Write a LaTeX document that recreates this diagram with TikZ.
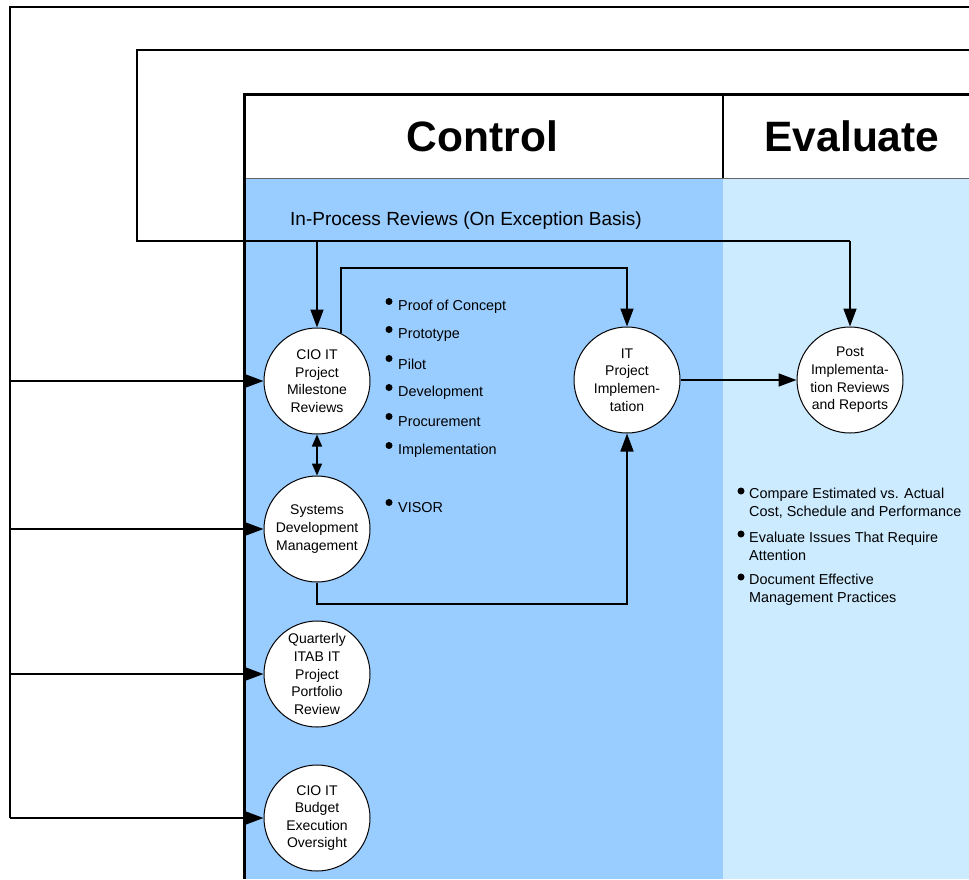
\documentclass[tikz,border=0pt]{standalone}
\usepackage{fontspec}
\setmainfont{Liberation Sans}
\usetikzlibrary{arrows.meta}
\definecolor{ctrlblue}{HTML}{99CCFF}
\definecolor{evalblue}{HTML}{CCEBFF}
\begin{document}
\begin{tikzpicture}[x=1pt,y=-1pt,
  wire/.style={line width=1.7pt},
  arr/.style={wire,-{Triangle[length=18pt,width=13pt]}},
  proc/.style={circle,draw,line width=1pt,fill=white,minimum size=106pt,inner sep=0pt,
    align=center,font=\fontsize{14}{17.6}\selectfont},
  title/.style={font=\bfseries\fontsize{42.5}{50}\selectfont},
  item/.style={anchor=west,inner sep=0pt,font=\fontsize{14.4}{18}\selectfont},
  dot/.style={fill=black},
]
\useasboundingbox (0,0) rectangle (969,879);

% panels
\fill[ctrlblue] (244,178) rectangle (723,879);
\fill[evalblue] (723,178) rectangle (969,879);
\draw[line width=0.8pt,black!60] (244,178) -- (969,178);
\draw[line width=1.2pt] (723,94) -- (723,178);
\draw[line width=3pt] (969,94) -- (244,94) -- (244,879);

% headings
\node[title] (hctrl) at (482.5,136) {Control};
\node[title] (heval) at (852,136) {Evaluate};
\node[font=\fontsize{19}{22}\selectfont] (inproc) at (466,221) {In-Process Reviews (On Exception Basis)};

% process circles
\node[proc] (cio) at (317,381) {CIO IT\\Project\\Milestone\\Reviews};
\node[proc] (sdm) at (317,529) {Systems\\Development\\Management};
\node[proc] (qtr) at (317,674) {Quarterly\\ITAB IT\\Project\\Portfolio\\Review};
\node[proc] (bud) at (317,818) {CIO IT\\Budget\\Execution\\Oversight};
\node[proc] (itp) at (627,380) {IT\\Project\\Implemen-\\tation};
\node[proc] (pir) at (850,380) {Post\\Implementa-\\tion Reviews\\and Reports};

% control bullet list
\foreach \t/\y [count=\i] in {Proof of Concept/307,Prototype/335,Pilot/364,Development/393,
    Procurement/422,Implementation/451,VISOR/508}{
  \fill[dot] (389,\y-5.5) circle (3.5pt);
  \node[item] (ctl\i) at (398,\y) {\t};
}

% evaluate bullet list
\fill[dot] (741,491) circle (3.5pt);
\node[item,align=left] (ev1) at (749,503.5) {Compare Estimated vs. Actual\\Cost, Schedule and Performance};
\fill[dot] (741,534) circle (3.5pt);
\node[item,align=left] (ev2) at (749,546.5) {Evaluate Issues That Require\\Attention};
\fill[dot] (741,577) circle (3.5pt);
\node[item,align=left] (ev3) at (749,589.5) {Document Effective\\Management Practices};

% outer feedback loop to the left-hand circles
\coordinate (outR) at (969,7);
\coordinate (outC) at (10,7);
\coordinate (l1) at (10,381);
\coordinate (l2) at (10,529);
\coordinate (l3) at (10,674);
\coordinate (l4) at (10,818);
\draw[wire] (outR) -- (outC) -- (l4);
\draw[arr] (l1) -- (cio);
\draw[arr] (l2) -- (sdm);
\draw[arr] (l3) -- (qtr);
\draw[arr] (l4) -- (bud);

% in-process review loop
\coordinate (inR) at (969,50);
\coordinate (inC) at (137,50);
\coordinate (inB) at (137,241);
\coordinate (j1) at (317,241);
\coordinate (j2) at (850,241);
\draw[wire] (inR) -- (inC) -- (inB) -- (j2);
\draw[arr] (j1) -- (cio);
\draw[arr] (j2) -- (pir);

% links between processes
\coordinate (topbus) at (0,268);
\coordinate (botbus) at (0,604);
\draw[arr] (cio.63) |- (itp.north |- topbus) -- (itp.north);
\draw[arr] (sdm.south) |- (itp.south |- botbus) -- (itp.south);
\draw[wire,{Triangle[length=12pt,width=10pt]}-{Triangle[length=12pt,width=10pt]}] (cio.south) -- (sdm.north);
\draw[arr] (itp) -- (pir);
\end{tikzpicture}
\end{document}
